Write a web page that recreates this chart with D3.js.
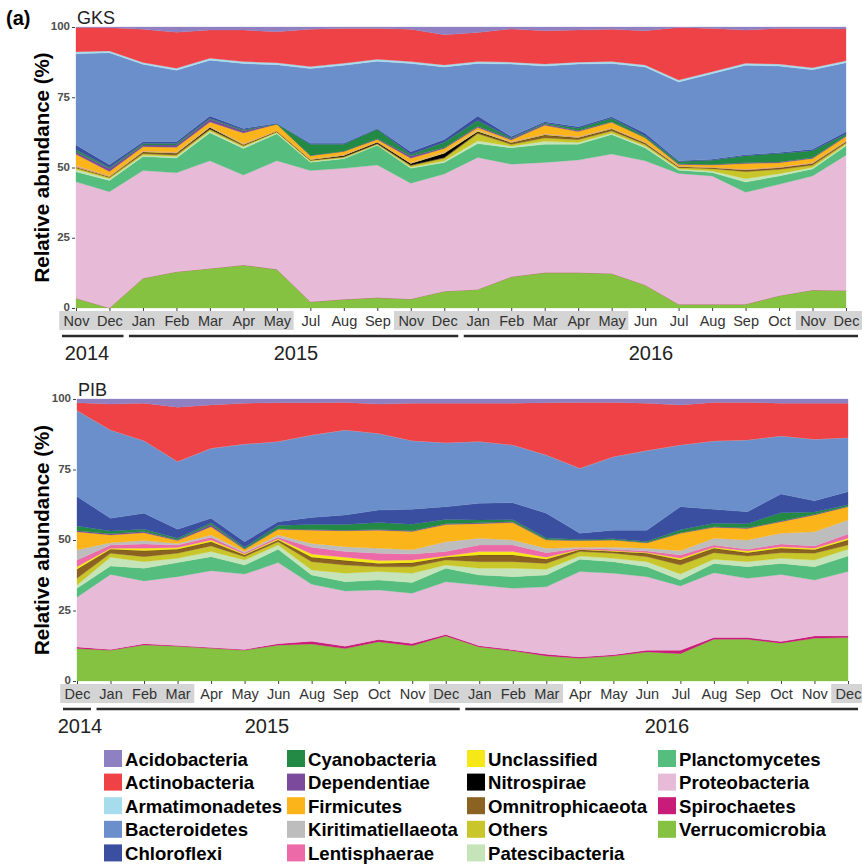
<!DOCTYPE html>
<html>
<head>
<meta charset="utf-8">
<script src="https://cdn.jsdelivr.net/npm/d3@7"></script>
<style>
  html, body { margin: 0; padding: 0; background: #fff; }
  svg { display: block; }
</style>
</head>
<body>
<svg id="chart" width="862" height="865"></svg>
<script>
// ---- phyla (legend order; stacked bottom-up in reverse) ----
const phyla = ["Acidobacteria","Actinobacteria","Armatimonadetes","Bacteroidetes","Chloroflexi",
  "Cyanobacteria","Dependentiae","Firmicutes","Kiritimatiellaeota","Lentisphaerae",
  "Unclassified","Nitrospirae","Omnitrophicaeota","Others","Patescibacteria",
  "Planctomycetes","Proteobacteria","Spirochaetes","Verrucomicrobia"];
const phylumColors = ["#8f80c1","#ee4247","#a7dcec","#6b8fca","#3a4fa0",
  "#238a45","#7b4a9c","#fbb419","#bdbdbd","#ec6aa8",
  "#f6e817","#000000","#8a6222","#c8c62a","#c6e4b9",
  "#55bd7d","#e7bad8","#c91b78","#86c241"];

// ---- GKS sampling months ----
const gksMonths = ["Nov","Dec","Jan","Feb","Mar","Apr","May","Jul","Aug","Sep","Nov","Dec",
  "Jan","Feb","Mar","Apr","May","Jun","Jul","Aug","Sep","Oct","Nov","Dec"];
const gksShaded = [0,1,2,3,4,5,6,10,11,12,13,14,15,16,22,23];
const gksYears = [{year:"2014", from:0, to:1}, {year:"2015", from:2, to:11}, {year:"2016", from:12, to:23}];

// GKS relative abundance (%) per phylum
const gksAcidobacteria    = [0.2,0.3,0.8,1.9,1.1,1.1,1.7,0.8,0.5,0.5,0.8,2.8,2.0,0.7,1.3,1.1,0.8,1.3,0.2,0.5,1.1,0.5,0.6,0.7];
const gksActinobacteria   = [8.6,8.2,11.8,12.8,10.0,11.2,11.0,13.3,12.4,11.0,11.5,10.7,10.3,11.8,11.9,11.4,11.5,12.2,18.7,15.4,11.8,12.7,13.9,11.3];
const gksArmatimonadetes  = [0.7,0.7,0.7,0.7,0.7,0.7,0.7,0.7,0.7,0.7,0.7,0.7,0.7,0.7,0.7,0.7,0.7,0.7,0.7,0.7,0.7,0.7,0.7,0.7];
const gksBacteroidetes    = [32.5,39.8,27.5,25.4,19.9,23.1,20.9,26.6,27.8,23.9,31.4,25.8,18.7,25.8,19.8,22.3,18.9,23.6,28.0,30.5,31.9,30.8,28.3,24.6];
const gksChloroflexi      = [1.7,1.0,0.7,0.7,0.9,0.5,0.1,0.3,0.3,0.3,1.0,1.0,1.6,0.5,0.5,0.5,0.6,1.0,0.3,0.3,0.3,0.3,0.5,0.8];
const gksCyanobacteria    = [0.8,0.4,0.5,0.5,0.2,0.3,0.1,4.0,2.5,3.4,0.5,2.0,2.0,0.3,0.3,0.8,1.2,0.5,0.8,1.5,2.5,3.0,2.5,0.6];
const gksDependentiae     = [0.8,1.0,0.6,0.8,1.0,0.8,0.1,0.1,0.1,0.2,0.8,0.2,0.5,0.4,0.5,0.4,0.2,0.1,0.2,0.2,0.3,0.3,0.3,0.3];
const gksFirmicutes       = [4.0,1.5,1.5,1.7,1.6,3.8,2.3,1.2,1.2,0.8,1.5,1.2,0.8,0.6,3.0,1.8,2.0,1.5,0.6,0.8,2.0,1.5,1.5,1.5];
const gksKiritimatiellaeota = [0.2,0.1,0.1,0.1,0.1,0.1,0.05,0.05,0.05,0.05,0.1,0.1,0.1,0.1,0.1,0.1,0.1,0.1,0.05,0.05,0.1,0.1,0.1,0.1];
const gksLentisphaerae    = [0.2,0.1,0.1,0.1,0.1,0.1,0.05,0.05,0.05,0.05,0.1,0.1,0.1,0.1,0.1,0.1,0.1,0.1,0.05,0.05,0.1,0.1,0.1,0.1];
const gksUnclassified     = [0.2,0.2,0.2,0.2,0.2,0.2,0.1,0.1,0.1,0.1,0.2,0.3,0.4,0.2,0.2,0.2,0.2,0.2,0.1,0.1,0.1,0.1,0.1,0.1];
const gksNitrospirae      = [0,0,0.1,0.1,0.4,0.1,0.1,0.1,0.4,0.4,0.5,1.5,0.3,0.1,0.1,0.1,0.1,0.1,0.05,0.05,0.1,0.1,0.1,0.1];
const gksOmnitrophicaeota = [0.3,0.3,0.5,0.6,0.3,0.3,0.1,0.2,0.2,0.2,0.3,0.3,0.5,0.5,1.0,0.6,0.6,0.4,0.3,0.3,0.5,0.5,0.5,0.4];
const gksOthers           = [0.5,0.4,0.5,0.5,0.6,0.4,0.3,0.3,0.3,0.3,0.5,1.0,2.5,0.6,1.2,1.0,0.8,0.6,0.5,0.8,2.5,1.5,0.8,0.5];
const gksPatescibacteria  = [0.8,0.6,0.5,0.5,0.5,0.5,0.4,0.3,0.3,0.2,0.4,0.5,1.0,0.6,1.0,0.6,0.5,0.6,0.4,0.5,1.2,0.8,0.5,0.5];
const gksPlanctomycetes   = [3.6,4.0,5.0,5.3,10.0,9.5,9.6,3.0,3.4,7.0,5.3,4.1,4.9,5.8,6.5,5.6,6.9,4.6,1.15,1.25,3.6,3.0,2.5,3.3];
const gksProteobacteria   = [41.4,41.4,38.3,35.2,38.3,32.0,38.6,46.7,46.6,47.2,41.2,41.7,47.0,40.1,39.2,40.1,42.5,44.2,46.6,45.7,39.9,39.6,40.6,48.2];
const gksSpirochaetes     = [0,0,0,0,0,0,0,0,0,0,0,0,0,0,0,0,0,0,0,0,0,0,0,0];
const gksVerrucomicrobia  = [3.5,0,10.6,12.9,14.1,15.3,13.8,2.2,3.1,3.7,3.2,6.0,6.6,11.1,12.6,12.6,12.3,8.2,1.3,1.3,1.3,4.4,6.4,6.2];

// ---- PIB sampling months ----
const pibMonths = ["Dec","Jan","Feb","Mar","Apr","May","Jun","Aug","Sep","Oct","Nov","Dec",
  "Jan","Feb","Mar","Apr","May","Jun","Jul","Aug","Sep","Oct","Nov","Dec"];
const pibShaded = [0,1,2,3,11,12,13,14,23];
const pibYears = [{year:"2014", from:0, to:0}, {year:"2015", from:1, to:11}, {year:"2016", from:12, to:23}];

// PIB relative abundance (%) per phylum
const pibAcidobacteria    = [1.3,1.8,1.5,2.9,2.1,1.5,1.3,1.3,1.2,1.8,1.5,1.5,1.5,1.5,1.3,1.2,1.2,1.5,2.1,1.2,1.2,1.5,1.5,1.5];
const pibActinobacteria   = [2.8,9.2,13.3,19.3,15.4,14.5,13.8,11.5,9.8,10.4,13.3,14.0,13.6,14.8,18.6,23.4,19.3,16.8,14.2,13.7,13.3,11.6,12.8,12.2];
const pibArmatimonadetes  = [0,0,0,0,0,0,0,0,0,0,0,0,0,0,0,0,0,0,0,0,0,0,0,0];
const pibBacteroidetes    = [30.5,31.3,25.7,24.0,24.8,34.6,28.4,29.2,30.1,27.2,24.3,22.7,21.9,20.5,20.6,23.0,26.0,28.2,21.9,24.2,25.5,20.6,21.8,19.2];
const pibChloroflexi      = [10.4,4.5,5.7,3.2,1.6,2.0,1.4,2.5,3.4,4.4,5.3,4.5,5.9,6.0,8.8,2.2,3.1,4.0,8.2,5.0,4.2,6.6,4.0,4.6];
const pibCyanobacteria    = [1.7,1.0,0.8,0.5,0.6,0.5,1.1,1.8,2.0,2.5,2.3,1.5,1.0,0.7,0.5,0.3,0.3,0.4,1.0,1.2,1.5,3.0,0.8,0.5];
const pibDependentiae     = [0.4,0.4,0.4,0.3,0.8,0.2,0.2,0.2,0.2,0.2,0.3,0.3,0.3,0.3,0.2,0.1,0.1,0.1,0.2,0.2,0.2,0.2,0.2,0.2];
const pibFirmicutes       = [6.4,2.8,2.8,1.0,2.9,0.8,2.0,4.7,5.7,6.4,6.5,6.1,5.2,6.2,2.9,2.4,2.6,1.9,6.2,3.9,4.1,4.1,6.0,4.7];
const pibKiritimatiellaeota = [3.6,0.8,1.2,0.6,0.8,0.4,0.8,1.4,1.7,1.8,1.5,3.5,2.4,1.8,1.6,0.3,0.7,1.0,1.5,2.4,3.3,3.8,5.0,5.0];
const pibLentisphaerae    = [2.4,1.1,1.5,0.9,1.0,0.5,0.6,2.4,2.0,2.6,2.1,1.6,2.3,2.3,1.6,0.4,0.5,0.5,1.2,0.8,0.6,1.0,0.8,1.5];
const pibUnclassified     = [0.9,0.4,0.9,0.6,0.6,0.3,0.4,1.1,1.2,1.0,1.0,0.4,1.2,1.2,0.7,0.2,0.3,0.3,0.6,0.3,0.6,0.5,0.6,0.6];
const pibNitrospirae      = [0,0,0,0,0,0,0,0,0,0,0,0,0,0,0,0,0,0,0,0,0,0,0,0];
const pibOmnitrophicaeota = [3.2,1.4,2.1,1.4,1.5,0.6,0.6,1.6,1.6,1.2,1.4,1.0,2.4,2.4,1.5,0.6,0.6,1.2,1.8,1.6,1.2,1.6,1.2,1.8];
const pibOthers           = [2.4,1.4,1.8,1.8,2.0,1.2,1.2,2.9,2.9,1.7,2.3,1.8,2.3,2.3,2.1,1.6,1.8,1.8,3.2,2.3,2.0,2.0,2.4,1.5];
const pibPatescibacteria  = [1.1,3.1,2.3,1.5,1.8,1.8,1.5,1.8,3.0,3.0,3.3,1.1,2.4,3.0,2.0,1.1,1.2,1.8,2.1,1.5,1.8,1.8,2.4,2.4];
const pibPlanctomycetes   = [3.2,3.0,4.5,5.0,5.0,3.2,4.7,3.3,3.3,3.5,3.8,4.8,3.6,4.1,4.2,4.4,4.1,3.5,2.1,3.3,4.1,3.9,4.7,5.5];
const pibProteobacteria   = [17.6,26.6,22.3,24.4,27.2,26.7,28.8,20.2,19.6,17.6,17.8,18.7,21.5,21.8,23.9,30.3,28.9,26.1,22.8,23.0,21.0,23.8,19.8,22.8];
const pibSpirochaetes     = [0.6,0.3,0.4,0.3,0.3,0.3,0.5,1.0,0.8,0.8,0.8,0.5,0.4,0.4,0.6,0.4,0.4,0.6,1.2,0.6,0.6,0.6,0.8,0.6];
const pibVerrucomicrobia  = [11.5,10.9,12.8,12.3,11.6,10.9,12.7,13.1,11.5,13.9,12.5,16.0,12.1,10.7,8.9,8.1,8.9,10.3,9.7,14.8,14.8,13.4,15.2,15.4];

const yTicks = [0, 25, 50, 75, 100];

// ---- build per-sample rows for d3.stack ----
function rows(months, seriesList) {
  return months.map((m, i) => {
    const r = { idx: i };
    phyla.forEach((p, k) => { r[p] = seriesList[k][i]; });
    return r;
  });
}
const gksRows = rows(gksMonths, [gksAcidobacteria, gksActinobacteria, gksArmatimonadetes, gksBacteroidetes,
  gksChloroflexi, gksCyanobacteria, gksDependentiae, gksFirmicutes, gksKiritimatiellaeota, gksLentisphaerae,
  gksUnclassified, gksNitrospirae, gksOmnitrophicaeota, gksOthers, gksPatescibacteria, gksPlanctomycetes,
  gksProteobacteria, gksSpirochaetes, gksVerrucomicrobia]);
const pibRows = rows(pibMonths, [pibAcidobacteria, pibActinobacteria, pibArmatimonadetes, pibBacteroidetes,
  pibChloroflexi, pibCyanobacteria, pibDependentiae, pibFirmicutes, pibKiritimatiellaeota, pibLentisphaerae,
  pibUnclassified, pibNitrospirae, pibOmnitrophicaeota, pibOthers, pibPatescibacteria, pibPlanctomycetes,
  pibProteobacteria, pibSpirochaetes, pibVerrucomicrobia]);

const color = d3.scaleOrdinal().domain(phyla).range(phylumColors);
const stackKeys = phyla.slice().reverse();   // Verrucomicrobia at the bottom
const stack = d3.stack().keys(stackKeys);

const svg = d3.select("#chart");
const narrow = "'Liberation Sans Narrow','Arial Narrow',sans-serif";
const sans = "'Liberation Sans',Arial,sans-serif";

function drawPanel(cfg) {
  const { data, months, shaded, years, title, x0, x1, yTop, yBottom, yearLabelAt } = cfg;
  const g = svg.append("g");

  const x = d3.scalePoint().domain(d3.range(months.length)).range([x0, x1]).padding(0);
  const y = d3.scaleLinear().domain([0, 100]).range([yBottom, yTop]);
  const step = x.step();

  const area = d3.area()
    .x(d => x(d.data.idx))
    .y0(d => y(d[0]))
    .y1(d => y(d[1]));

  g.append("g").selectAll("path")
    .data(stack(data))
    .join("path")
    .attr("d", area)
    .attr("fill", d => color(d.key))
    .attr("stroke", d => color(d.key))
    .attr("stroke-width", 0.3);

  // shaded month labels (grey boxes behind groups of months)
  const groups = [];
  shaded.forEach(i => {
    const last = groups[groups.length - 1];
    if (last && last[1] === i - 1) last[1] = i; else groups.push([i, i]);
  });
  const labelY = yBottom + 3;
  g.append("g").selectAll("rect")
    .data(groups)
    .join("rect")
    .attr("x", d => x(d[0]) - step / 2)
    .attr("width", d => Math.min(862, x(d[1]) + step / 2) - (x(d[0]) - step / 2))
    .attr("y", labelY)
    .attr("height", 19)
    .attr("fill", "#d4d4d4");

  // axes
  const yAxis = d3.axisLeft(y).tickValues(yTicks).tickSize(3).tickPadding(2);
  const ya = g.append("g").attr("transform", `translate(${x0 - 1},0)`).call(yAxis);
  ya.select(".domain").remove();
  ya.selectAll(".tick line").attr("stroke", "#444");
  ya.selectAll(".tick text").attr("fill", "#4d4d4d").attr("font-family", sans)
    .attr("font-weight", "bold").attr("font-size", 11.5).attr("dy", "0.25em");

  const xAxis = d3.axisBottom(x).tickFormat(i => months[i]).tickSize(3).tickPadding(2);
  const xa = g.append("g").attr("transform", `translate(0,${yBottom})`).call(xAxis);
  xa.select(".domain").remove();
  xa.selectAll(".tick line").attr("stroke", "#444");
  xa.selectAll(".tick text").attr("fill", "#333").attr("font-family", narrow)
    .attr("font-size", 14.5).attr("dy", "0.9em");

  // year brackets
  const bracketY = yBottom + 28;
  years.forEach((yr, k) => {
    const a = x(yr.from) - 14, b = Math.min(858, x(yr.to) + 14);
    g.append("line").attr("x1", a).attr("x2", b).attr("y1", bracketY).attr("y2", bracketY)
      .attr("stroke", "#2b2b2b").attr("stroke-width", 2.5);
    g.append("text").attr("x", yearLabelAt[k]).attr("y", bracketY + 24)
      .attr("text-anchor", "middle").attr("font-family", narrow).attr("font-size", 20)
      .attr("fill", "#222").text(yr.year);
  });

  // panel title
  g.append("text").attr("x", x0 + 1).attr("y", yTop - 3)
    .attr("font-family", sans).attr("font-size", 18).attr("fill", "#222").text(title);

  // y title
  g.append("text")
    .attr("transform", `translate(49,${(yTop + yBottom) / 2}) rotate(-90)`)
    .attr("text-anchor", "middle").attr("font-family", sans).attr("font-weight", "bold")
    .attr("font-size", 20.5).attr("fill", "#000").text("Relative abundance (%)");
}

drawPanel({ data: gksRows, months: gksMonths, shaded: gksShaded, years: gksYears, title: "GKS",
  x0: 76, x1: 846, yTop: 27, yBottom: 308, yearLabelAt: [87, 296, 651] });
drawPanel({ data: pibRows, months: pibMonths, shaded: pibShaded, years: pibYears, title: "PIB",
  x0: 77, x1: 848, yTop: 399, yBottom: 681, yearLabelAt: [80, 267, 667] });

// panel tag
svg.append("text").attr("x", 6).attr("y", 25).attr("font-family", sans).attr("font-weight", "bold")
  .attr("font-size", 20).attr("fill", "#000").text("(a)");

// legend: four columns
const legendCols = [104, 287, 467, 658];
const legend = svg.append("g");
phyla.forEach((p, i) => {
  const col = Math.floor(i / 5), row = i % 5;
  const cx = legendCols[col], cy = 758.5 + row * 23.6;
  legend.append("rect").attr("x", cx).attr("y", cy - 8.5).attr("width", 18).attr("height", 17)
    .attr("fill", color(p));
  legend.append("text").attr("x", cx + 21).attr("y", cy + 7)
    .attr("font-family", sans).attr("font-weight", "bold").attr("font-size", 18.6)
    .attr("fill", "#000").text(p);
});
</script>
</body>
</html>
